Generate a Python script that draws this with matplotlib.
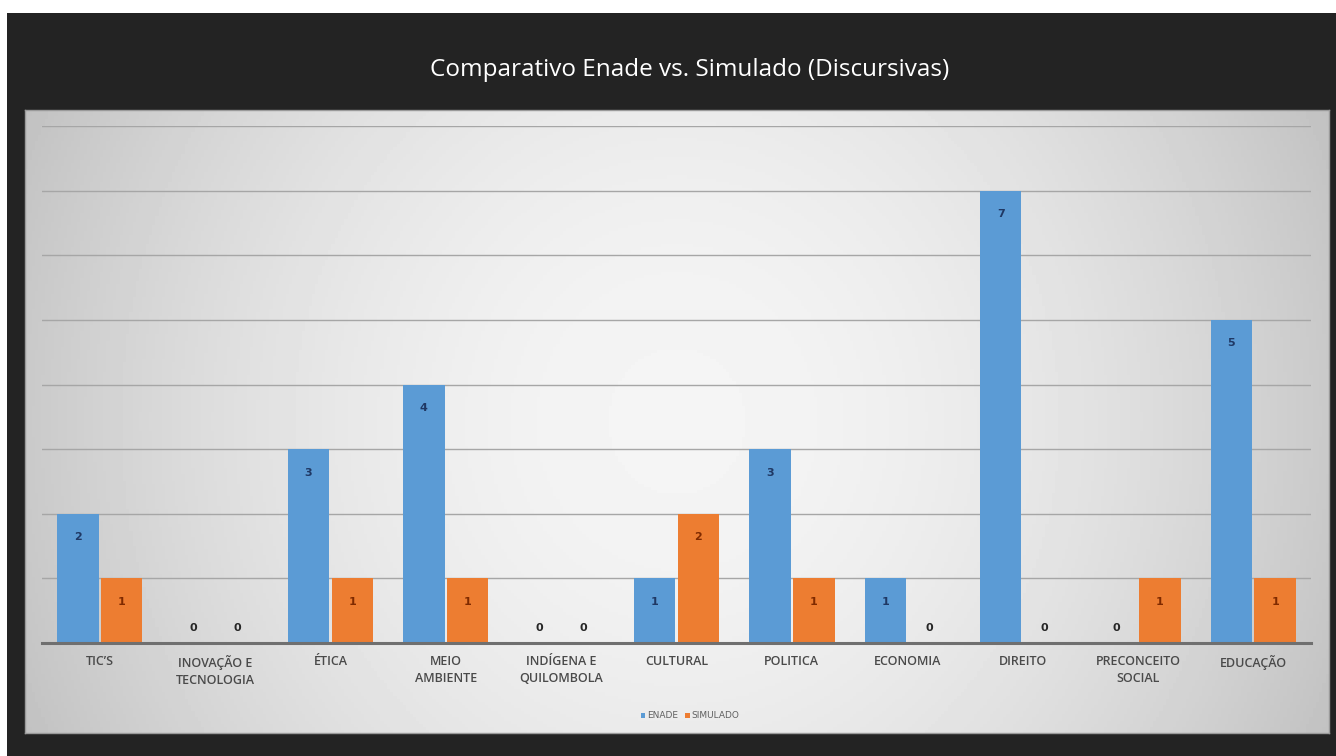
import numpy as np
import matplotlib
matplotlib.use("Agg")
import matplotlib.pyplot as plt

categories = ["TIC\u2019S", "INOVAÇÃO E\nTECNOLOGIA", "ÉTICA", "MEIO\nAMBIENTE",
              "INDÍGENA E\nQUILOMBOLA", "CULTURAL", "POLITICA", "ECONOMIA",
              "DIREITO", "PRECONCEITO\nSOCIAL", "EDUCAÇÃO"]
enade = [2, 0, 3, 4, 0, 1, 3, 1, 7, 0, 5]
simulado = [1, 0, 1, 1, 0, 2, 1, 0, 0, 1, 1]
series_names = ["ENADE", "SIMULADO"]
title = "Comparativo Enade vs. Simulado (Discursivas)"

W, H = 1336, 756
fig = plt.figure(figsize=(W / 100, H / 100), dpi=100)
fig.patch.set_facecolor("white")

# dark frame
frame = fig.add_axes([7 / W, 0, (W - 7) / W, (H - 13) / H])
frame.set_facecolor("#232323")
frame.set_xticks([]); frame.set_yticks([])
for s in frame.spines.values():
    s.set_visible(False)

# gradient panel
px0, px1, py0, py1 = 25, 1329, 110, 733
panel = fig.add_axes([px0 / W, (H - py1) / H, (px1 - px0) / W, (py1 - py0) / H])
yy, xx = np.mgrid[-1:1:200j, -1:1:400j]
r = np.sqrt((xx * 1.0) ** 2 + (yy * 0.45) ** 2)
grad = 0.96 - 0.17 * np.clip(r, 0, 1.3) ** 1.8
panel.imshow(grad, cmap="gray", vmin=0, vmax=1, aspect="auto", extent=[0, 1, 0, 1])
panel.set_xticks([]); panel.set_yticks([])
for s in panel.spines.values():
    s.set_color("#9a9a9a"); s.set_linewidth(1.0)

# main axes
ax0, ax1, ay0, ay1 = 42, 1311, 126, 643
ax = fig.add_axes([ax0 / W, (H - ay1) / H, (ax1 - ax0) / W, (ay1 - ay0) / H])
ax.patch.set_alpha(0)

x = np.arange(len(categories))
bw = 0.36
off = 0.19
b1 = ax.bar(x - off, enade, bw, color="#5B9BD5", zorder=3, label=series_names[0])
b2 = ax.bar(x + off, simulado, bw, color="#ED7D31", zorder=3, label=series_names[1])

ax.set_xlim(-0.5, len(categories) - 0.5)
ax.set_ylim(0, 8)
ax.set_yticks(np.arange(0, 9, 1))
ax.yaxis.grid(True, color="#a6a6a6", linewidth=1.0, zorder=0)
ax.tick_params(axis="y", left=False, labelleft=False)
ax.tick_params(axis="x", bottom=False, pad=5)
for k in ["left", "right", "top"]:
    ax.spines[k].set_visible(False)
ax.spines["bottom"].set_color("#6f6f6f")
ax.spines["bottom"].set_linewidth(2.2)
ax.spines["bottom"].set_zorder(4)

ax.set_xticks(x)
ax.set_xticklabels(categories, fontsize=9, color="#4a4a4a", fontweight="semibold",
                   fontfamily="Open Sans", linespacing=1.45)

for bars, col in ((b1, "#1F3864"), (b2, "#7F2A00")):
    for rect in bars:
        h = rect.get_height()
        cx = rect.get_x() + rect.get_width() / 2
        if h > 0:
            ax.annotate(f"{int(h)}", (cx, h), xytext=(0, -17), textcoords="offset points",
                        ha="center", va="center", fontsize=8, fontweight="bold",
                        color=col, zorder=5)
        else:
            ax.annotate("0", (cx, 0), xytext=(0, 11), textcoords="offset points",
                        ha="center", va="center", fontsize=8, fontweight="bold",
                        color="#262626", zorder=5)

leg = fig.legend(handles=[b1, b2], labels=series_names, loc="center",
                 bbox_to_anchor=(690 / W, (H - 716) / H), ncol=2, frameon=False,
                 fontsize=6.5, handlelength=0.5, handleheight=0.5,
                 handletextpad=0.2, columnspacing=0.8)
for t in leg.get_texts():
    t.set_color("#606060")

fig.text(690 / W, (H - 70) / H, title, ha="center", va="center",
         fontsize=17.5, color="white", fontfamily="Open Sans")

fig.savefig("out.png", dpi=100)
